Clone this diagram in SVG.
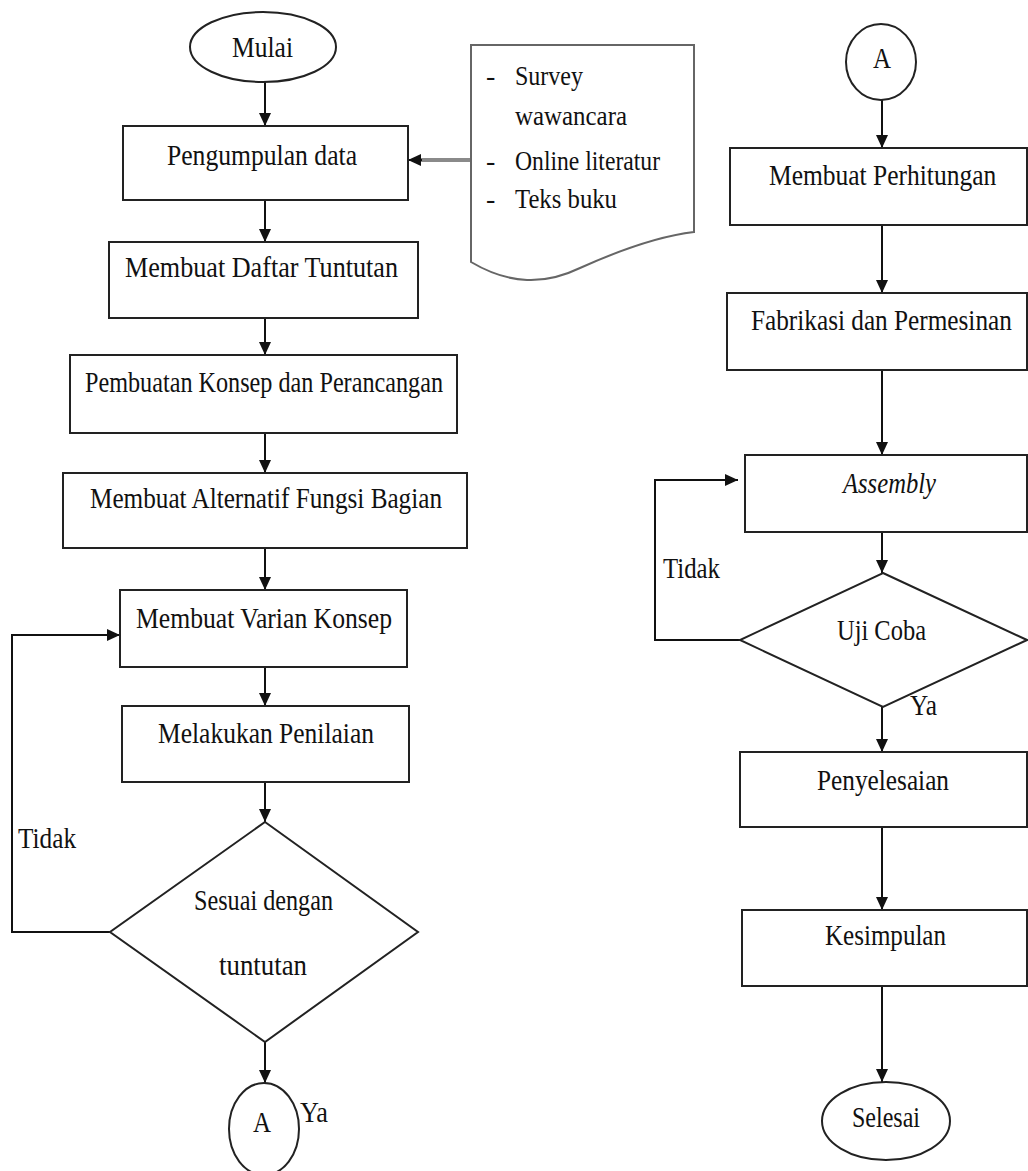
<svg xmlns="http://www.w3.org/2000/svg" width="1028" height="1171" viewBox="0 0 1028 1171">
<style>
.shape{fill:#fff;stroke:#222;stroke-width:2}
.line{fill:none;stroke:#111;stroke-width:2}
.gray{fill:none;stroke:#8a8a8a;stroke-width:4}
.t{font-family:"Liberation Serif","Times New Roman",serif;font-size:30px;fill:#111}
.d{font-family:"Liberation Serif","Times New Roman",serif;font-size:28px;fill:#111}
.i{font-style:italic}
</style>
<defs>
<marker id="ah" markerUnits="userSpaceOnUse" markerWidth="14" markerHeight="14" viewBox="0 0 14 14" refX="13" refY="7" orient="auto">
<path d="M0,1 L13,7 L0,13 Z" fill="#111"/>
</marker>
</defs>
<rect width="1028" height="1171" fill="#fff"/>

<g id="connectors">
<line class="line" x1="265" y1="82" x2="265" y2="126" marker-end="url(#ah)"/>
<line class="line" x1="265" y1="200" x2="265" y2="242" marker-end="url(#ah)"/>
<line class="line" x1="265" y1="318" x2="265" y2="355" marker-end="url(#ah)"/>
<line class="line" x1="265" y1="433" x2="265" y2="473" marker-end="url(#ah)"/>
<line class="line" x1="265" y1="548" x2="265" y2="590" marker-end="url(#ah)"/>
<line class="line" x1="265" y1="667" x2="265" y2="706" marker-end="url(#ah)"/>
<line class="line" x1="265" y1="782" x2="265" y2="822" marker-end="url(#ah)"/>
<line class="line" x1="265" y1="1042" x2="265" y2="1083" marker-end="url(#ah)"/>
<line class="gray" x1="471" y1="160" x2="420" y2="160"/>
<line class="line" x1="422" y1="160" x2="408" y2="160" marker-end="url(#ah)"/>
<polyline class="line" points="110,932 12,932 12,635 120,635" marker-end="url(#ah)"/>
<line class="line" x1="882" y1="100" x2="882" y2="148" marker-end="url(#ah)"/>
<line class="line" x1="882" y1="225" x2="882" y2="293" marker-end="url(#ah)"/>
<line class="line" x1="882" y1="370" x2="882" y2="455" marker-end="url(#ah)"/>
<line class="line" x1="882" y1="532" x2="882" y2="573" marker-end="url(#ah)"/>
<line class="line" x1="882" y1="707" x2="882" y2="752" marker-end="url(#ah)"/>
<line class="line" x1="882" y1="827" x2="882" y2="910" marker-end="url(#ah)"/>
<line class="line" x1="882" y1="986" x2="882" y2="1082" marker-end="url(#ah)"/>
<polyline class="line" points="740,640 655,640 655,480 738,480" marker-end="url(#ah)"/>
<text class="t" x="18" y="848" textLength="58" lengthAdjust="spacingAndGlyphs">Tidak</text>
<text class="t" x="300" y="1122" textLength="28" lengthAdjust="spacingAndGlyphs">Ya</text>
<text class="t" x="663" y="578" textLength="57" lengthAdjust="spacingAndGlyphs">Tidak</text>
<text class="t" x="910" y="715" textLength="27" lengthAdjust="spacingAndGlyphs">Ya</text>
</g>

<g id="mulai">
<ellipse class="shape" cx="263" cy="47" rx="73" ry="35"/>
<text class="t" x="232" y="57" textLength="61" lengthAdjust="spacingAndGlyphs">Mulai</text>
</g>
<g id="pengumpulan">
<rect class="shape" x="123" y="126" width="285" height="74"/>
<text class="t" x="167" y="165" textLength="190" lengthAdjust="spacingAndGlyphs">Pengumpulan data</text>
</g>
<g id="sumber">
<path class="shape" style="stroke:#666" d="M471,45 H694 V232 C660,236 620,250 580,268 C545,285 510,285 471,262 Z"/>
<text class="d" x="486" y="85">-</text>
<text class="d" x="515" y="85" textLength="68" lengthAdjust="spacingAndGlyphs">Survey</text>
<text class="d" x="515" y="125" textLength="112" lengthAdjust="spacingAndGlyphs">wawancara</text>
<text class="d" x="486" y="170">-</text>
<text class="d" x="515" y="170" textLength="145" lengthAdjust="spacingAndGlyphs">Online literatur</text>
<text class="d" x="486" y="208">-</text>
<text class="d" x="515" y="208" textLength="102" lengthAdjust="spacingAndGlyphs">Teks buku</text>
</g>
<g id="daftar">
<rect class="shape" x="109" y="242" width="309" height="76"/>
<text class="t" x="125" y="277" textLength="273" lengthAdjust="spacingAndGlyphs">Membuat Daftar Tuntutan</text>
</g>
<g id="konsep">
<rect class="shape" x="70" y="355" width="387" height="78"/>
<text class="t" x="85" y="392" textLength="358" lengthAdjust="spacingAndGlyphs">Pembuatan Konsep dan Perancangan</text>
</g>
<g id="alternatif">
<rect class="shape" x="63" y="473" width="404" height="75"/>
<text class="t" x="90" y="508" textLength="352" lengthAdjust="spacingAndGlyphs">Membuat Alternatif Fungsi Bagian</text>
</g>
<g id="varian">
<rect class="shape" x="120" y="590" width="287" height="77"/>
<text class="t" x="136" y="628" textLength="256" lengthAdjust="spacingAndGlyphs">Membuat Varian Konsep</text>
</g>
<g id="penilaian">
<rect class="shape" x="122" y="706" width="287" height="76"/>
<text class="t" x="158" y="743" textLength="216" lengthAdjust="spacingAndGlyphs">Melakukan Penilaian</text>
</g>
<g id="sesuai">
<polygon class="shape" points="265,822 418,932 265,1042 110,932"/>
<text class="t" x="194" y="910" textLength="139" lengthAdjust="spacingAndGlyphs">Sesuai dengan</text>
<text class="t" x="219" y="975" textLength="88" lengthAdjust="spacingAndGlyphs">tuntutan</text>
</g>
<g id="konektorA1">
<ellipse class="shape" cx="264" cy="1129" rx="35" ry="46"/>
<text class="t" x="253" y="1132" textLength="18" lengthAdjust="spacingAndGlyphs">A</text>
</g>

<g id="konektorA2">
<ellipse class="shape" cx="881" cy="62" rx="35" ry="38"/>
<text class="t" x="873" y="68" textLength="18" lengthAdjust="spacingAndGlyphs">A</text>
</g>
<g id="perhitungan">
<rect class="shape" x="730" y="148" width="297" height="77"/>
<text class="t" transform="translate(769,185) scale(0.85,1)" x="0" y="0">Membuat Perhitungan</text>
</g>
<g id="fabrikasi">
<rect class="shape" x="727" y="293" width="300" height="77"/>
<text class="t" transform="translate(751,330) scale(0.842,1)" x="0" y="0">Fabrikasi dan Permesinan</text>
</g>
<g id="assembly">
<rect class="shape" x="745" y="455" width="282" height="77"/>
<text class="t i" x="843" y="493" textLength="93" lengthAdjust="spacingAndGlyphs">Assembly</text>
</g>
<g id="ujicoba">
<polygon class="shape" points="883,573 1027,640 883,707 740,640"/>
<text class="t" x="837" y="640" textLength="89" lengthAdjust="spacingAndGlyphs">Uji Coba</text>
</g>
<g id="penyelesaian">
<rect class="shape" x="740" y="752" width="287" height="75"/>
<text class="t" x="817" y="790" textLength="132" lengthAdjust="spacingAndGlyphs">Penyelesaian</text>
</g>
<g id="kesimpulan">
<rect class="shape" x="742" y="910" width="285" height="76"/>
<text class="t" x="825" y="945" textLength="121" lengthAdjust="spacingAndGlyphs">Kesimpulan</text>
</g>
<g id="selesai">
<ellipse class="shape" cx="886" cy="1121" rx="64" ry="39"/>
<text class="t" x="852" y="1127" textLength="68" lengthAdjust="spacingAndGlyphs">Selesai</text>
</g>
</svg>
